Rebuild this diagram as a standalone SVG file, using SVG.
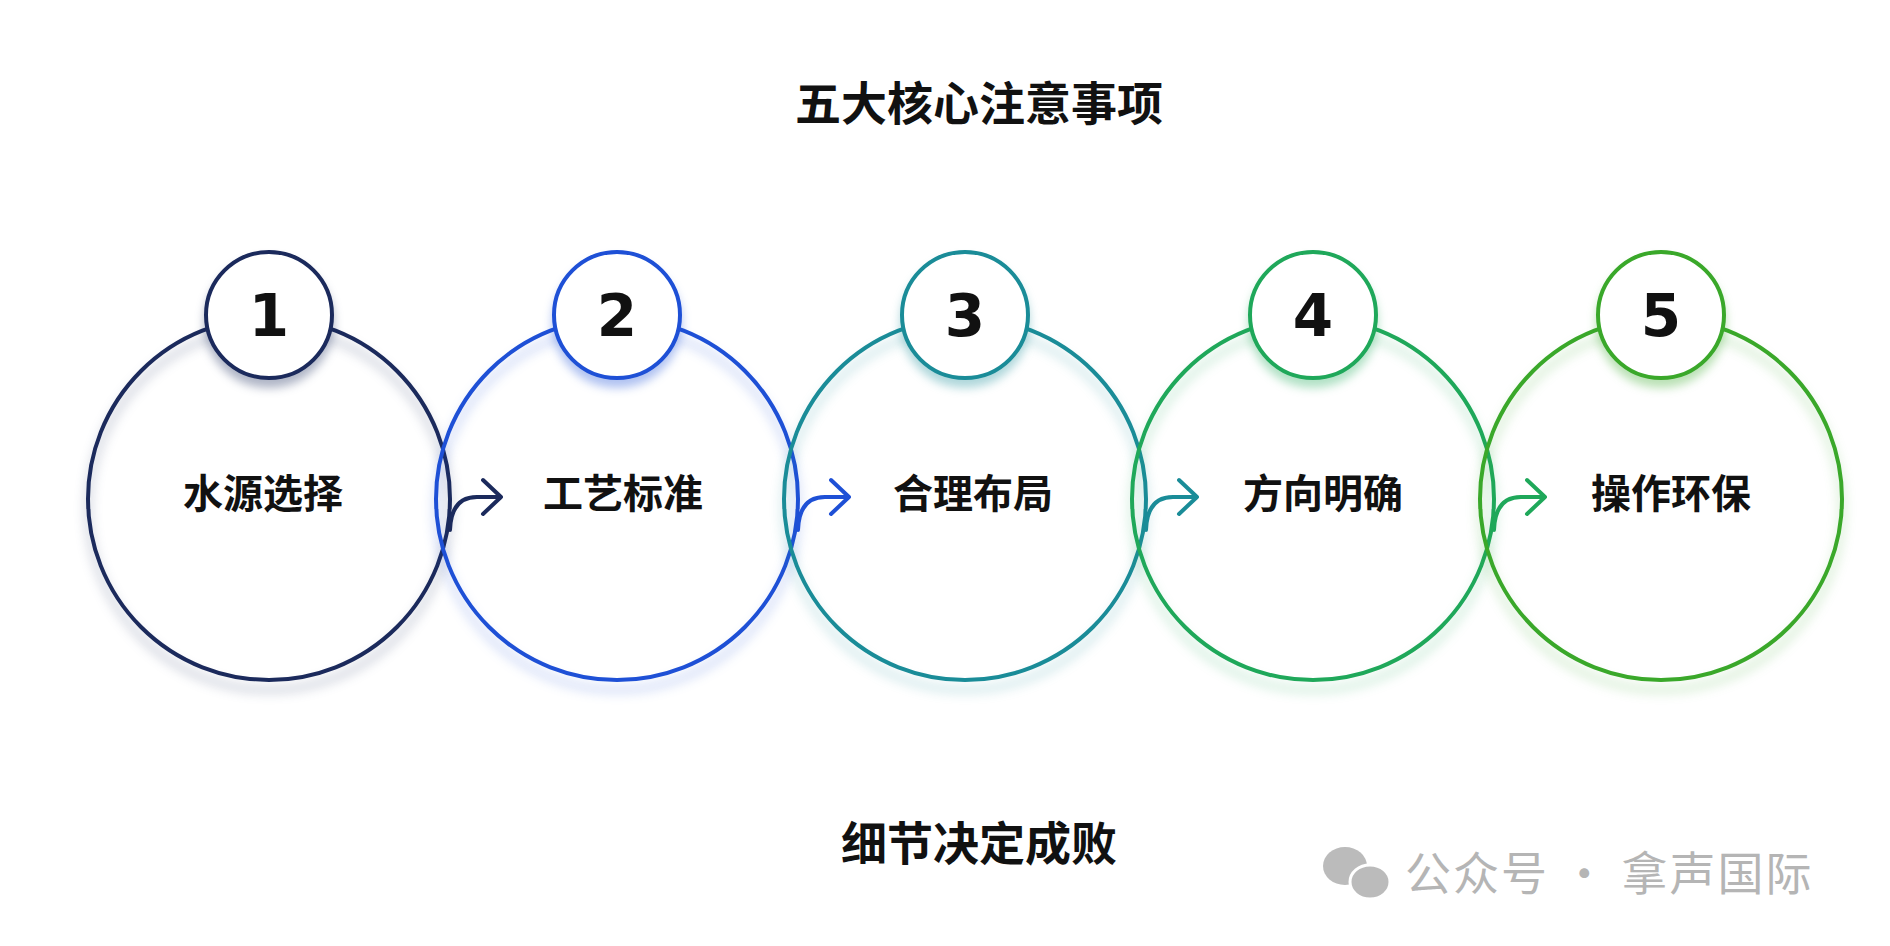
<svg xmlns="http://www.w3.org/2000/svg" width="1890" height="946" viewBox="0 0 1890 946">
<style>
.t{font-family:"Noto Sans CJK SC","Liberation Sans",sans-serif;font-weight:bold;fill:#111;text-anchor:middle}
.big{fill:none;stroke-width:4}
.sm{fill:#fff;stroke-width:4}
.num{font-family:"DejaVu Sans","Liberation Sans",sans-serif;font-weight:900;font-size:58px;fill:#111;text-anchor:middle}
.lab{font-family:"Noto Sans CJK SC",sans-serif;font-weight:bold;font-size:40px;fill:#111;text-anchor:middle}
.arr{fill:none;stroke-width:4;stroke-linecap:round;stroke-linejoin:round}
</style>
<rect width="1890" height="946" fill="#fff"/>
<text class="t" x="979" y="120" font-size="46">五大核心注意事项</text>
<g id="node1"><circle class="big" cx="269" cy="499" r="181" stroke="#1b2a5c" style="filter:drop-shadow(0 10px 6px rgba(27,42,92,0.35))"/><circle class="sm" cx="269" cy="315" r="63" stroke="#1b2a5c" style="filter:drop-shadow(0 8px 5px rgba(27,42,92,0.35))"/><text class="num" x="269" y="336">1</text><text class="lab" x="263" y="508">水源选择</text></g>
<g id="node2"><circle class="big" cx="617" cy="499" r="181" stroke="#1e50d6" style="filter:drop-shadow(0 10px 6px rgba(30,80,214,0.35))"/><circle class="sm" cx="617" cy="315" r="63" stroke="#1e50d6" style="filter:drop-shadow(0 8px 5px rgba(30,80,214,0.35))"/><text class="num" x="617" y="336">2</text><text class="lab" x="623" y="508">工艺标准</text></g>
<g id="node3"><circle class="big" cx="965" cy="499" r="181" stroke="#1a8c98" style="filter:drop-shadow(0 10px 6px rgba(26,140,152,0.35))"/><circle class="sm" cx="965" cy="315" r="63" stroke="#1a8c98" style="filter:drop-shadow(0 8px 5px rgba(26,140,152,0.35))"/><text class="num" x="965" y="336">3</text><text class="lab" x="973" y="508">合理布局</text></g>
<g id="node4"><circle class="big" cx="1313" cy="499" r="181" stroke="#1fa85a" style="filter:drop-shadow(0 10px 6px rgba(31,168,90,0.35))"/><circle class="sm" cx="1313" cy="315" r="63" stroke="#1fa85a" style="filter:drop-shadow(0 8px 5px rgba(31,168,90,0.35))"/><text class="num" x="1313" y="336">4</text><text class="lab" x="1323" y="508">方向明确</text></g>
<g id="node5"><circle class="big" cx="1661" cy="499" r="181" stroke="#3aa82a" style="filter:drop-shadow(0 10px 6px rgba(58,168,42,0.35))"/><circle class="sm" cx="1661" cy="315" r="63" stroke="#3aa82a" style="filter:drop-shadow(0 8px 5px rgba(58,168,42,0.35))"/><text class="num" x="1661" y="336">5</text><text class="lab" x="1671" y="508">操作环保</text></g>
<g id="connectors">
<path class="arr" stroke="#1b2a5c" d="M450 530 Q451 497 477 497 L499 497 M483 480 L501 497 L483 514"/>
<path class="arr" stroke="#1e50d6" d="M798 530 Q799 497 825 497 L847 497 M831 480 L849 497 L831 514"/>
<path class="arr" stroke="#1a8c98" d="M1146 530 Q1147 497 1173 497 L1195 497 M1179 480 L1197 497 L1179 514"/>
<path class="arr" stroke="#1fa85a" d="M1494 530 Q1495 497 1521 497 L1543 497 M1527 480 L1545 497 L1527 514"/>
</g>
<text class="t" x="979" y="860" font-size="46">细节决定成败</text>
<g id="watermark" fill="#bbb">
<ellipse cx="1345" cy="866" rx="22" ry="19"/><ellipse cx="1370" cy="882" rx="20" ry="17" stroke="#fff" stroke-width="3"/>
<text x="1405" y="890" font-family="Noto Sans CJK SC,sans-serif" font-size="46" letter-spacing="2" fill="#b5b5b5">公众号 · 拿声国际</text>
</g>
</svg>
